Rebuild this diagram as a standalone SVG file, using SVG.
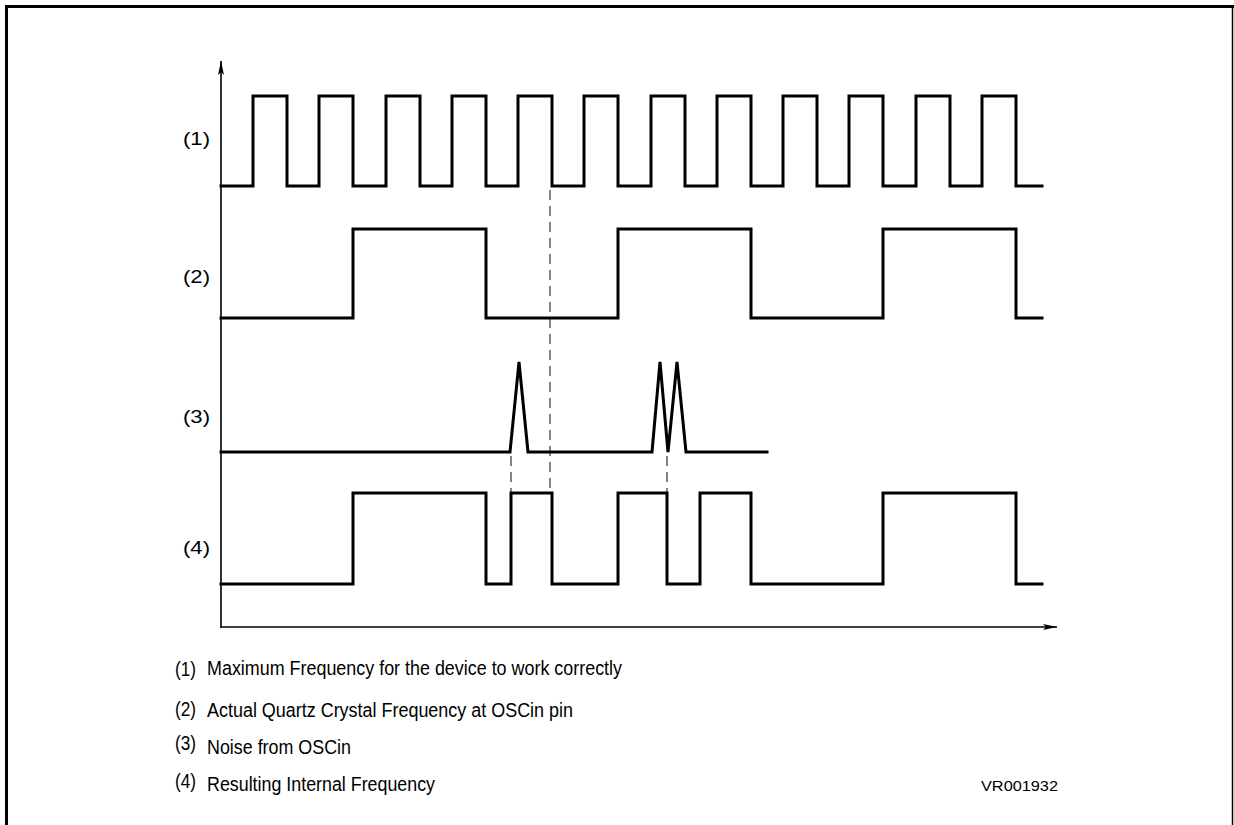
<svg xmlns="http://www.w3.org/2000/svg" width="1234" height="825" viewBox="0 0 1234 825">
<style>
  .wave{fill:none;stroke:#000;stroke-width:3;stroke-linejoin:miter;stroke-linecap:square}
  .axis{fill:none;stroke:#000;stroke-width:1.6}
  .dash{fill:none;stroke:#222;stroke-width:1.1;stroke-dasharray:10,6}
  .lbl{font-family:"Liberation Sans",Arial,sans-serif;font-size:19px;fill:#000}
  .leg{font-family:"Liberation Sans",Arial,sans-serif;font-size:20px;fill:#000}
  .num{font-family:"Liberation Sans",Arial,sans-serif;font-size:21px;fill:#000}
  .code{font-family:"Liberation Sans",Arial,sans-serif;font-size:15px;fill:#000}
</style>
<defs>
  <marker id="arr" viewBox="0 0 14 8" refX="14" refY="4" markerWidth="14" markerHeight="8" markerUnits="userSpaceOnUse" orient="auto">
    <path d="M0,1 L14,4 L0,7 L3,4 Z" fill="#000"/>
  </marker>
</defs>
<rect width="1234" height="825" fill="#fff"/>
<g id="frame">
  <path d="M6.5,825 V6.5 H1234" fill="none" stroke="#000" stroke-width="3"/>
  <line x1="1232.5" y1="6" x2="1232.5" y2="825" stroke="#000" stroke-width="1.5"/>
</g>
<g id="connectors">
  <line class="axis" x1="221" y1="628" x2="221" y2="61" marker-end="url(#arr)"/>
  <line class="axis" x1="221" y1="627" x2="1057" y2="627" marker-end="url(#arr)"/>
  <line class="dash" x1="550" y1="190" x2="550" y2="493"/>
  <line class="dash" x1="511" y1="456" x2="511" y2="493"/>
  <line class="dash" x1="667" y1="456" x2="667" y2="493"/>
</g>
<g id="wave1">
  <path class="wave" d="M221,186 H253 V96 H287 V186 H319 V96 H353 V186 H386 V96 H420 V186 H452 V96 H486 V186 H518 V96 H552 V186 H584 V96 H618 V186 H651 V96 H685 V186 H717 V96 H751 V186 H783 V96 H817 V186 H849 V96 H883 V186 H916 V96 H950 V186 H982 V96 H1016 V186 H1042"/>
  <text class="lbl" x="183" y="145" textLength="27" lengthAdjust="spacingAndGlyphs">(1)</text>
</g>
<g id="wave2">
  <path class="wave" d="M221,318 H353 V229 H486 V318 H618 V229 H751 V318 H883 V229 H1016 V318 H1042"/>
  <text class="lbl" x="183" y="283" textLength="27" lengthAdjust="spacingAndGlyphs">(2)</text>
</g>
<g id="wave3">
  <path class="wave" d="M221,452 H510 L519,362 L528,452 H652 L660,362 L668,452 L677,362 L686,452 H767"/>
  <text class="lbl" x="183" y="423" textLength="27" lengthAdjust="spacingAndGlyphs">(3)</text>
</g>
<g id="wave4">
  <path class="wave" d="M221,584 H353 V493 H486 V584 H511 V493 H552 V584 H618 V493 H667 V584 H700 V493 H751 V584 H883 V493 H1016 V584 H1042"/>
  <text class="lbl" x="183" y="554" textLength="27" lengthAdjust="spacingAndGlyphs">(4)</text>
</g>
<g id="legend">
  <text class="num" x="175" y="676" textLength="21" lengthAdjust="spacingAndGlyphs">(1)</text>
  <text class="leg" x="207" y="675" textLength="415" lengthAdjust="spacingAndGlyphs">Maximum Frequency for the device to work correctly</text>
  <text class="num" x="175" y="716" textLength="21" lengthAdjust="spacingAndGlyphs">(2)</text>
  <text class="leg" x="207" y="717" textLength="366" lengthAdjust="spacingAndGlyphs">Actual Quartz Crystal Frequency at OSCin pin</text>
  <text class="num" x="175" y="750" textLength="21" lengthAdjust="spacingAndGlyphs">(3)</text>
  <text class="leg" x="207" y="754" textLength="144" lengthAdjust="spacingAndGlyphs">Noise from OSCin</text>
  <text class="num" x="175" y="788" textLength="21" lengthAdjust="spacingAndGlyphs">(4)</text>
  <text class="leg" x="207" y="791" textLength="228" lengthAdjust="spacingAndGlyphs">Resulting Internal Frequency</text>
  <text class="code" x="981" y="791" textLength="77" lengthAdjust="spacingAndGlyphs">VR001932</text>
</g>
</svg>
